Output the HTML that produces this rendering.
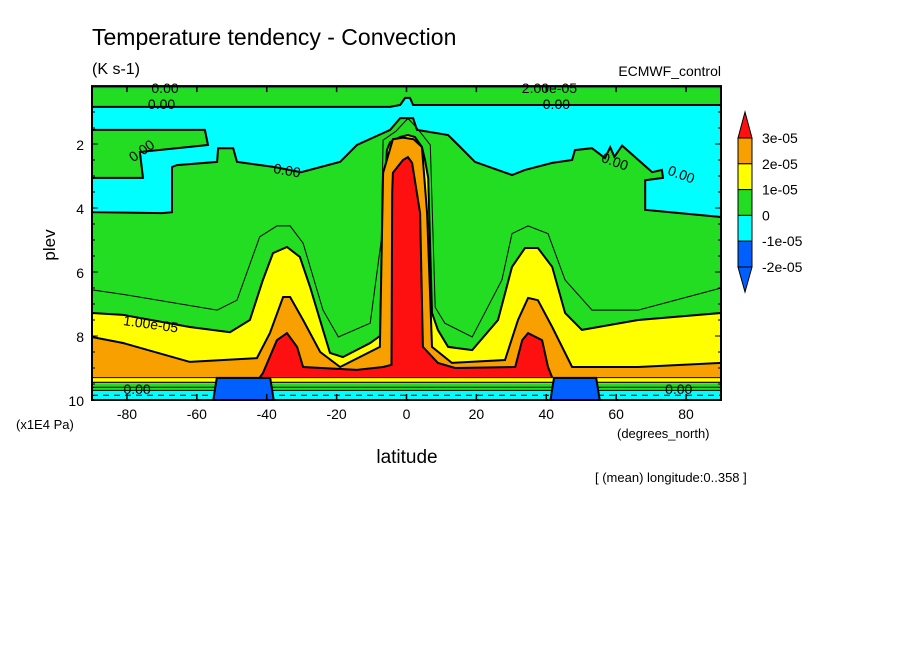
<!DOCTYPE html>
<html><head><meta charset="utf-8"><style>
body{margin:0;background:#fff;width:904px;height:654px;overflow:hidden}
svg{display:block;font-family:"Liberation Sans",sans-serif}
</style></head><body>
<svg id="chart" width="904" height="654" viewBox="0 0 904 654">
<text x="92" y="45" font-size="23">Temperature tendency - Convection</text>
<text x="92" y="74" font-size="16">(K s-1)</text>
<text x="721" y="76" font-size="14" text-anchor="end">ECMWF_control</text>
<text x="55" y="245" font-size="17" transform="rotate(-90 55 245)" text-anchor="middle">plev</text>
<text x="16" y="429" font-size="13">(x1E4 Pa)</text>
<text x="617" y="438" font-size="13">(degrees_north)</text>
<text x="407" y="463" font-size="19" text-anchor="middle">latitude</text>
<text x="595" y="482" font-size="13">[ (mean) longitude:0..358 ]</text>
<g id="plot"></g>
<g id="axes"></g>
<g id="legend"></g>
</svg>
<script>
const xTicks=[-80,-60,-40,-20,0,20,40,60,80];
const yTicks=[2,4,6,8,10];
const topLat=[-90,-4.7,-1.8,-0.4,1,1.9,90];
const topP=[0.84,0.84,0.78,0.56,0.56,0.78,0.78];
const cyanBotLat=[-90,-70,-67.1,-67.1,-65.7,-54.2,-53.9,-49.6,-48.5,-37.8,-30.2,-19,-14.2,-4.7,-1.8,1,1.9,3,11.9,14.8,19.6,30.2,33.9,41.7,47.4,48.2,53.1,56.8,58.3,59.5,61.7,70.3,73.1,73.4,68.3,68.3,90];
const cyanBotP=[4.13,4.16,4.13,2.72,2.66,2.56,2.13,2.13,2.56,2.72,2.88,2.56,2.03,1.56,1.19,1.19,1.19,1.56,1.72,2.03,2.56,2.97,2.81,2.59,2.5,2.19,2.13,2.44,2.1,2.4,2.05,2.88,2.81,3.06,3.13,4.06,4.28];
const tongueLLat=[-90,-57.7,-56.8,-76.3,-75.4,-90];
const tongueLP=[1.56,1.56,2.03,2.25,3.06,3.06];
const yellowLat=[-90,-81.1,-62,-50.5,-44.8,-41.1,-38.2,-34.2,-30.5,-27.6,-23.9,-21.9,-18.2,-10.4,-7.6,-6.7,-5.6,-4.7,-1.8,0.4,2.4,4.4,5.3,6.2,7.3,9,11.9,18.8,26.2,30.2,33.9,37.6,41.7,45.4,50.2,66.3,90];
const yellowP=[7.28,7.34,7.72,7.88,7.5,6.25,5.41,5.22,5.53,6.47,7.81,8.53,8.66,8.22,8.0,4.5,2.19,1.94,1.78,1.72,1.78,2.09,2.5,3.06,7.28,7.81,8.34,8.44,7.5,5.84,5.25,5.25,5.84,7.28,7.81,7.5,7.28];
const orangeLat=[-90,-81.1,-62,-42.8,-39.1,-35.3,-33.3,-29.6,-24.7,-19,-7.6,-6.7,-3.9,-1,2,4.4,5.9,7.3,13,28.2,31.9,34.8,37.6,41.7,47.4,66.3,90];
const orangeP=[8.03,8.22,8.81,8.69,7.91,6.78,6.78,7.5,8.5,8.97,8.34,2.9,1.85,1.8,1.85,2.09,4.16,8.34,8.84,8.75,7.5,6.81,6.88,7.72,8.97,8.97,8.84];
const redLat=[-42,-41.1,-37.1,-34.2,-31.3,-29.6,-14.2,-6.7,-4.3,-4.1,-3.9,-1,0.4,1.6,3.9,4.7,9,13.9,31.1,33.1,34.8,38.8,40.5,41.7];
const redP=[9.3,9.16,8.13,7.91,8.34,8.97,9.06,8.97,8.9,3.5,2.9,2.5,2.41,2.59,4.16,8.34,8.84,9.0,8.97,8.13,7.91,8.13,8.97,9.3];
const halfLat=[-90,-81.1,-54.2,-48.5,-42,-37.1,-33.3,-29.6,-23.9,-19.5,-10.4,-7.2,-6.7,-3,0.4,3,6.8,8.2,11,18.8,27.3,30.2,34.8,40.5,45.4,53.1,66.3,90];
const halfP=[6.56,6.7,7.19,6.88,4.9,4.56,4.56,5.1,7.19,8.03,7.6,5,1.88,1.6,1.2,1.5,2.03,7.1,7.6,8.03,6.25,4.8,4.56,4.8,6.25,7.19,7.19,6.5];
const blockLat=[[-54.8,-38.5],[41.7,54.8]];
const legendLabels=["3e-05","2e-05","1e-05","0","-1e-05","-2e-05"];

const NS="http://www.w3.org/2000/svg";
const X=lat=>92+(lat+90)*3.4944;
const Y=p=>80+p*32;
const G="#22dd22",C="#00ffff",YE="#ffff00",O="#f7a000",R="#ff1010",B="#0060ff";
function mk(tag,attrs,parent){const e=document.createElementNS(NS,tag);for(const k in attrs)e.setAttribute(k,attrs[k]);parent.appendChild(e);return e;}
function pts(la,pa){return la.map((l,i)=>X(l).toFixed(1)+","+Y(pa[i]).toFixed(1)).join(" ");}
const plot=document.getElementById('plot');
let e=mk('rect',{x:X(-90),y:Y(0.19),width:X(90)-X(-90),height:Y(10)-Y(0.19),fill:G},plot);


e=mk('rect',{x:X(-90),y:Y(0.19),width:X(90)-X(-90),height:2,fill:B},plot);


const cl=topLat.concat(cyanBotLat.slice().reverse()), cp=topP.concat(cyanBotP.slice().reverse());
e=mk('polygon',{points:pts(cl,cp),fill:C,stroke:"#000","stroke-width":2},plot);


e=mk('polygon',{points:pts(tongueLLat,tongueLP),fill:G,stroke:"#000","stroke-width":2},plot);


e=mk('polyline',{points:pts(halfLat,halfP),fill:"none",stroke:"#000","stroke-width":1},plot);


function band(la,pa,fill,name){
  const l=la.concat([la[la.length-1],la[0]]), p=pa.concat([9.35,9.35]);
  const el=mk('polygon',{points:pts(l,p),fill:fill,stroke:"#000","stroke-width":2},plot);
  
  
}
band(yellowLat,yellowP,YE,'band-1e-5');
band(orangeLat,orangeP,O,'band-2e-5');
band(redLat,redP,R,'band-3e-5');
const strips=[[9.28,9.42,YE],[9.42,9.5,O],[9.5,9.7,G],[9.7,10,C]];
strips.forEach((s,i)=>{const r=mk('rect',{x:X(-90),y:Y(s[0]),width:X(90)-X(-90),height:Y(s[1])-Y(s[0]),fill:s[2]},plot);

});
[9.3,9.45,9.6,9.7].forEach(p=>{const l=mk('line',{x1:X(-90),x2:X(90),y1:Y(p),y2:Y(p),stroke:"#000","stroke-width":1},plot);

});
const dl=mk('line',{x1:X(-90),x2:X(90),y1:Y(9.85),y2:Y(9.85),stroke:"#000","stroke-width":1,"stroke-dasharray":"6 5"},plot);


blockLat.forEach(b=>{const pl=mk('polygon',{points:pts([b[0]-0.5,b[0]+0.5,b[1]-0.5,b[1]+0.5],[10,9.31,9.31,10]),fill:B,stroke:"#000","stroke-width":2},plot);

});
const labs=[[-74,0.75,"0.00",0],[-79,2.45,"0.00",-35],[-38,2.75,"0.00",10],[39,0.75,"0.00",0],[56,2.4,"0.00",20],[75,2.8,"0.00",20],[-81,7.5,"1.00e-05",8],[74,9.65,"0.00",0],[-81,9.65,"0.00",0],[-73,0.25,"0.00",0],[33,0.25,"2.00e-05",0]];
labs.forEach(a=>{const t=mk('text',{x:X(a[0]),y:Y(a[1])+5,"font-size":14,transform:`rotate(${a[3]} ${X(a[0])} ${Y(a[1])})`},plot);t.textContent=a[2];

});
const ax=document.getElementById('axes');
e=mk('rect',{x:X(-90),y:Y(0.19),width:X(90)-X(-90),height:Y(10)-Y(0.19),fill:"none",stroke:"#000","stroke-width":2},ax);


xTicks.forEach(v=>{
  mk('line',{x1:X(v),x2:X(v),y1:Y(10),y2:Y(10)-6,stroke:"#000","stroke-width":1.5},ax);
  mk('line',{x1:X(v),x2:X(v),y1:Y(0.19),y2:Y(0.19)+6,stroke:"#000","stroke-width":1.5},ax);
  const t=mk('text',{x:X(v),y:419,"font-size":14,"text-anchor":"middle"},ax);t.textContent=v;
  
  
});
for(let p=1;p<=10;p+=0.5){mk('line',{x1:X(-90),x2:X(-90)+(p%2===0?6:3),y1:Y(p),y2:Y(p),stroke:"#000"},ax);mk('line',{x1:X(90),x2:X(90)-(p%2===0?6:3),y1:Y(p),y2:Y(p),stroke:"#000"},ax);}
yTicks.forEach(v=>{const t=mk('text',{x:84,y:Y(v)+6,"font-size":14,"text-anchor":"end"},ax);t.textContent=v;
  
  });
const lg=document.getElementById('legend');
const lc=[O,YE,G,C,B];
let tri=mk('polygon',{points:"738,138 752,138 745,112",fill:R,stroke:"#000"},lg);


lc.forEach((c,i)=>{const r=mk('rect',{x:738,y:138+i*25.8,width:14,height:25.8,fill:c,stroke:"#000"},lg);

});
tri=mk('polygon',{points:"738,267 752,267 745,292",fill:B,stroke:"#000"},lg);


legendLabels.forEach((s,i)=>{const t=mk('text',{x:762,y:143+i*25.8,"font-size":14},lg);t.textContent=s;

});
</script>
</body></html>
